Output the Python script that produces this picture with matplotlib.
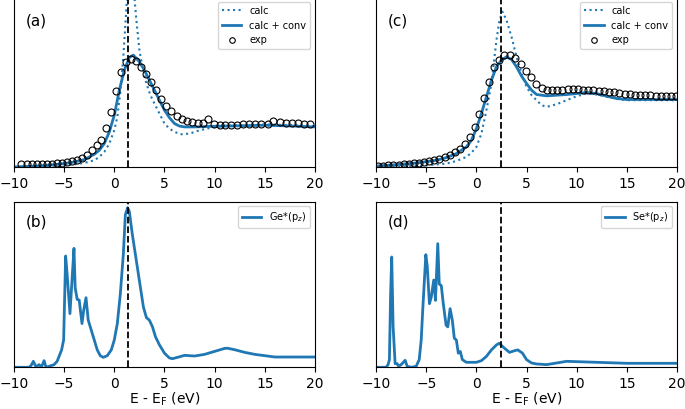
import matplotlib
matplotlib.use("Agg")
import matplotlib.pyplot as plt

# ---- panel (a): Ge K-edge, calc / calc+conv / exp ----
a_calc_x = [-10, -7, -5, -4, -3, -2, -1.5, -1, -0.5, 0, 0.3, 0.6, 0.9, 1.1, 1.3, 1.6, 2.0, 2.2, 2.5, 2.8,
            3.2, 3.6, 4, 4.5, 5, 5.5, 6, 6.7, 7.5, 8.5, 10, 12, 15, 18, 20]
a_calc_y = [0.0, 0.005, 0.01, 0.016, 0.024, 0.04, 0.06, 0.09, 0.14, 0.22, 0.3, 0.45, 0.66, 0.85, 1.05, 1.2, 1.02, 0.88, 0.7, 0.6,
            0.5, 0.43, 0.38, 0.32, 0.26, 0.23, 0.21, 0.196, 0.2, 0.22, 0.24, 0.25, 0.255, 0.25, 0.245]
a_conv_x = [-10, -7, -5, -4, -3, -2, -1.5, -1, -0.5, 0, 0.5, 1, 1.5, 1.9, 2.5, 3, 3.5, 4, 4.5, 5, 5.5, 6, 6.5,
            7, 8, 10, 12, 15, 18, 20]
a_conv_y = [0.0, 0.008, 0.02, 0.03, 0.044, 0.076, 0.1, 0.14, 0.21, 0.31, 0.46, 0.58, 0.656, 0.67, 0.63, 0.58, 0.52,
            0.46, 0.4, 0.34, 0.295, 0.26, 0.245, 0.24, 0.24, 0.244, 0.246, 0.25, 0.245, 0.24]
a_exp_x = [-9.25, -8.75, -8.25, -7.75, -7.25, -6.75, -6.25, -5.75, -5.25, -4.75, -4.25, -3.75, -3.25, -2.75,
           -2.25, -1.75, -1.3, -0.8, -0.3, 0.2, 0.7, 1.2, 1.7, 2.2, 2.7, 3.2, 3.7, 4.2, 4.7, 5.2, 5.7, 6.2,
           6.7, 7.2, 7.7, 8.3, 8.8, 9.35, 9.9, 10.5, 11.0, 11.6, 12.2, 12.8, 13.4, 14.0, 14.6, 15.3, 15.85,
           16.5, 17.1, 17.7, 18.3, 18.9, 19.5]
a_exp_y = [0.016, 0.016, 0.016, 0.016, 0.018, 0.018, 0.02, 0.022, 0.026, 0.03, 0.036, 0.044, 0.056, 0.074,
           0.1, 0.13, 0.164, 0.234, 0.33, 0.454, 0.57, 0.63, 0.648, 0.636, 0.6, 0.556, 0.51, 0.46, 0.41,
           0.368, 0.334, 0.306, 0.29, 0.276, 0.268, 0.264, 0.264, 0.288, 0.26, 0.254, 0.252, 0.252, 0.254,
           0.26, 0.26, 0.26, 0.26, 0.26, 0.278, 0.268, 0.266, 0.264, 0.262, 0.258, 0.256]

# ---- panel (c): Se K-edge ----
c_calc_x = [-10, -7, -5, -3, -2, -1, -0.5, 0, 0.5, 1, 1.5, 2, 2.3, 2.6, 3, 3.5, 4, 4.5, 5, 5.5, 6, 6.5, 7,
            8, 9, 10, 11, 12, 13, 14, 15, 17, 20]
c_calc_y = [0.0, 0.004, 0.01, 0.02, 0.036, 0.06, 0.085, 0.12, 0.2, 0.34, 0.5, 0.76, 0.88, 0.93, 0.88, 0.78,
            0.66, 0.56, 0.48, 0.43, 0.4, 0.37, 0.36, 0.376, 0.4, 0.424, 0.44, 0.434, 0.42, 0.408, 0.4, 0.4, 0.4]
c_conv_x = [-10, -8, -6, -4, -3, -2, -1, -0.5, 0, 0.5, 1, 1.5, 2, 2.5, 3, 3.5, 4, 4.5, 5, 5.5, 6, 7, 8, 9,
            10, 11, 12, 13, 14, 15, 17, 20]
c_conv_y = [0.006, 0.014, 0.024, 0.04, 0.056, 0.08, 0.12, 0.16, 0.23, 0.32, 0.42, 0.52, 0.6, 0.64, 0.66,
            0.644, 0.6, 0.544, 0.5, 0.46, 0.434, 0.426, 0.43, 0.434, 0.44, 0.446, 0.44, 0.424, 0.41, 0.404,
            0.404, 0.404]
c_exp_x = [-9.8, -9.3, -8.8, -8.3, -7.7, -7.2, -6.7, -6.2, -5.7, -5.2, -4.7, -4.2, -3.7, -3.1, -2.6, -2.1,
           -1.6, -1.1, -0.6, -0.1, 0.3, 0.8, 1.3, 1.8, 2.3, 2.8, 3.3, 3.8, 4.4, 4.9, 5.4, 5.9, 6.5, 7.0, 7.5,
           8.0, 8.5, 9.1, 9.6, 10.1, 10.6, 11.1, 11.6, 12.2, 12.7, 13.2, 13.7, 14.2, 14.8, 15.3, 15.8, 16.3,
           16.8, 17.3, 17.9, 18.4, 18.9, 19.4, 19.9]
c_exp_y = [0.006, 0.008, 0.01, 0.012, 0.014, 0.016, 0.02, 0.022, 0.026, 0.03, 0.036, 0.042, 0.05, 0.06,
           0.07, 0.09, 0.11, 0.14, 0.18, 0.24, 0.32, 0.416, 0.51, 0.6, 0.64, 0.67, 0.67, 0.65, 0.616, 0.574,
           0.536, 0.5, 0.474, 0.46, 0.46, 0.46, 0.464, 0.466, 0.466, 0.466, 0.464, 0.464, 0.46, 0.458, 0.456,
           0.45, 0.448, 0.444, 0.44, 0.436, 0.434, 0.432, 0.43, 0.43, 0.428, 0.426, 0.426, 0.424, 0.424]

# ---- panel (b): Ge*(pz) projected DOS ----
b_x = [-10, -8.5, -8.3, -8.07, -7.8, -7.5, -7.25, -7.0, -6.8, -6.0, -5.7, -5.25, -5.05, -4.85, -4.7, -4.42,
       -4.2, -4.02, -3.9, -3.7, -3.5, -3.22, -3.05, -2.82, -2.6, -2.3, -2.0, -1.7, -1.4, -1.1, -0.7, -0.3,
       0, 0.3, 0.6, 0.9, 1.1, 1.33, 1.5, 1.8, 2.1, 2.5, 2.9, 3.2, 3.5, 3.8, 4.1, 4.5, 5.0, 5.5, 5.8, 6.3,
       7.0, 7.5, 8, 9, 10, 11, 11.3, 12, 13, 14, 15, 16, 17, 20]
b_y = [0.0, 0.0, 0.01, 0.036, 0.002, 0.016, 0.002, 0.04, 0.0, 0.016, 0.036, 0.105, 0.165, 0.672, 0.56,
       0.324, 0.54, 0.718, 0.48, 0.41, 0.406, 0.264, 0.344, 0.42, 0.285, 0.225, 0.165, 0.105, 0.07, 0.06,
       0.07, 0.105, 0.165, 0.264, 0.443, 0.682, 0.92, 0.964, 0.94, 0.801, 0.682, 0.523, 0.364, 0.3, 0.284,
       0.245, 0.185, 0.135, 0.085, 0.056, 0.052, 0.06, 0.072, 0.07, 0.068, 0.078, 0.096, 0.114, 0.115,
       0.106, 0.09, 0.078, 0.07, 0.062, 0.062, 0.062]

# ---- panel (d): Se*(pz) projected DOS ----
d_x = [-10, -9, -8.8, -8.67, -8.55, -8.44, -8.3, -8.1, -7.9, -7.75, -7.5, -7.1, -6.9, -6.5, -6.0, -5.7,
       -5.5, -5.35, -5.04, -4.9, -4.68, -4.5, -4.25, -4.08, -3.85, -3.7, -3.5, -3.3, -3.02, -2.85, -2.62,
       -2.4, -2.2, -2.0, -1.8, -1.6, -1.4, -1.0, 0, 0.5, 1.0, 1.5, 2.0, 2.27, 2.8, 3.3, 3.8, 4.13, 4.6,
       5.0, 5.5, 6.0, 7.0, 8.0, 9.0, 10, 12, 15, 20]
d_y = [0.0, 0.0, 0.016, 0.046, 0.443, 0.666, 0.244, 0.022, 0.022, 0.006, 0.016, 0.042, 0.006, 0.0, 0.006,
       0.046, 0.165, 0.344, 0.68, 0.61, 0.384, 0.423, 0.527, 0.404, 0.746, 0.503, 0.493, 0.384, 0.254,
       0.244, 0.354, 0.284, 0.175, 0.165, 0.085, 0.095, 0.046, 0.03, 0.03, 0.04, 0.066, 0.105, 0.135,
       0.145, 0.115, 0.09, 0.1, 0.105, 0.085, 0.046, 0.026, 0.02, 0.016, 0.026, 0.036, 0.034, 0.03,
       0.024, 0.024]

edge_ge = 1.4
edge_se = 2.5

blue = "#1f77b4"

fig = plt.figure(figsize=(6.85, 4.09), dpi=100)
# top row runs a few pixels past the top edge (cropped in the original)
ax_a = fig.add_axes([0.0204, 0.5917, 0.4394, 0.4156])
ax_c = fig.add_axes([0.549, 0.5917, 0.4394, 0.4156])
ax_b = fig.add_axes([0.0204, 0.102, 0.4394, 0.405])
ax_d = fig.add_axes([0.549, 0.102, 0.4394, 0.405])


def spectrum(ax, cx, cy, vx, vy, ex, ey, edge, tag):
    ax.plot(cx, cy, ":", color=blue, lw=1.5, label="calc")
    ax.plot(vx, vy, "-", color=blue, lw=2, label="calc + conv")
    ax.plot(ex, ey, "o", mfc="none", mec="black", mew=0.8, ms=5, label="exp")
    ax.axvline(edge, color="black", ls="--", lw=1.3)
    ax.set_xlim(-10, 20)
    ax.set_ylim(0, 1.018)
    ax.set_yticks([])
    ax.text(0.04, 0.86, tag, transform=ax.transAxes, fontsize=11, va="center")
    ax.legend(loc="upper right", fontsize=7, markerscale=0.8)


def dos(ax, x, y, edge, name, tag):
    ax.plot(x, y, "-", color=blue, lw=2, label=name)
    ax.axvline(edge, color="black", ls="--", lw=1.3)
    ax.set_xlim(-10, 20)
    ax.set_ylim(0, 1)
    ax.set_yticks([])
    ax.set_xlabel(r"E - E$_\mathrm{F}$ (eV)", fontsize=10, labelpad=0)
    ax.text(0.04, 0.88, tag, transform=ax.transAxes, fontsize=11, va="center")
    ax.legend(loc="upper right", fontsize=7)


spectrum(ax_a, a_calc_x, a_calc_y, a_conv_x, a_conv_y, a_exp_x, a_exp_y, edge_ge, "(a)")
spectrum(ax_c, c_calc_x, c_calc_y, c_conv_x, c_conv_y, c_exp_x, c_exp_y, edge_se, "(c)")
dos(ax_b, b_x, b_y, edge_ge, r"Ge*(p$_z$)", "(b)")
dos(ax_d, d_x, d_y, edge_se, r"Se*(p$_z$)", "(d)")

fig.savefig("out.png", dpi=100)
